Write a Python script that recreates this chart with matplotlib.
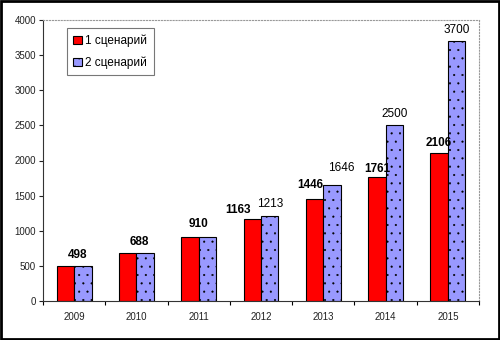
import numpy as np
import matplotlib.pyplot as plt
from matplotlib.patches import Rectangle

plt.rcParams['font.family'] = ['Liberation Sans', 'DejaVu Sans']
plt.rcParams['hatch.color'] = '#8585ea'
plt.rcParams['hatch.linewidth'] = 0.3

years = ['2009', '2010', '2011', '2012', '2013', '2014', '2015']
scen1 = [498, 688, 910, 1163, 1446, 1761, 2106]
scen2 = [498, 688, 910, 1213, 1646, 2500, 3700]
labels = ['1 сценарий', '2 сценарий']

# label nudges in pixels (labels were hand-placed in the original)
lab1_dx = [3, 3, 0, -14, -4, 0, 0]
lab1_dy = [8, 8, 10, 6, 11, 5, 7]
lab2_dx = [0, 0, 0, 0, 9, 0, 0]
lab2_dy = [8, 8, 8, 9, 14, 8, 8]

fig = plt.figure(figsize=(5, 3.4), dpi=100)
ax = fig.add_axes([43/500, 1 - 301/340, 436/500, 281/340])

x = np.arange(len(years))
w = 0.28
ax.bar(x - w/2, scen1, w, color='#ff0000', edgecolor='black', linewidth=0.8, label=labels[0])
ax.bar(x + w/2, scen2, w, color='#9999ff', edgecolor='black', linewidth=0.8,
       hatch='..', label=labels[1])

for i in range(len(years)):
    if scen1[i] == scen2[i]:
        ax.annotate(str(scen1[i]), (x[i], scen1[i]), xytext=(lab1_dx[i], lab1_dy[i]),
                    textcoords='offset pixels', ha='center', va='baseline',
                    fontsize=8.5, fontweight='bold')
    else:
        ax.annotate(str(scen1[i]), (x[i] - w/2, scen1[i]), xytext=(lab1_dx[i], lab1_dy[i]),
                    textcoords='offset pixels', ha='center', va='baseline',
                    fontsize=8.5, fontweight='bold')
        ax.annotate(str(scen2[i]), (x[i] + w/2, scen2[i]), xytext=(lab2_dx[i], lab2_dy[i]),
                    textcoords='offset pixels', ha='center', va='baseline',
                    fontsize=8.5)

ax.set_xlim(-0.5, len(years) - 0.5)
ax.set_ylim(0, 4000)
ax.set_yticks(range(0, 4001, 500))
ax.set_xticks(np.arange(-0.5, len(years), 1), minor=False)
ax.set_xticklabels([])
ax.set_xticks(x, minor=True)
ax.set_xticklabels(years, minor=True)
ax.tick_params(axis='x', which='minor', length=0, labelsize=7, colors='#222222', pad=8)
ax.tick_params(axis='x', which='major', length=3, direction='out')
ax.tick_params(axis='y', labelsize=7, length=3, colors='#222222', pad=2)

for s in ['top', 'right']:
    ax.spines[s].set_color('#999999')
    ax.spines[s].set_linestyle(':')
    ax.spines[s].set_linewidth(0.8)
for s in ['left', 'bottom']:
    ax.spines[s].set_color('#333333')
    ax.spines[s].set_linewidth(0.8)

leg = ax.legend(loc='upper left', bbox_to_anchor=(0.055, 0.9715), borderaxespad=0,
                fontsize=8.5, frameon=True, fancybox=False, edgecolor='#555555',
                handlelength=0.7, handleheight=0.7, handletextpad=0.3,
                labelspacing=0.8, borderpad=0.55)
leg.get_frame().set_linewidth(0.8)

fig.patches.append(Rectangle((0.002, 0.003), 0.996, 0.994, transform=fig.transFigure,
                             fill=False, edgecolor='black', linewidth=2))

fig.savefig('out.png', dpi=100)
